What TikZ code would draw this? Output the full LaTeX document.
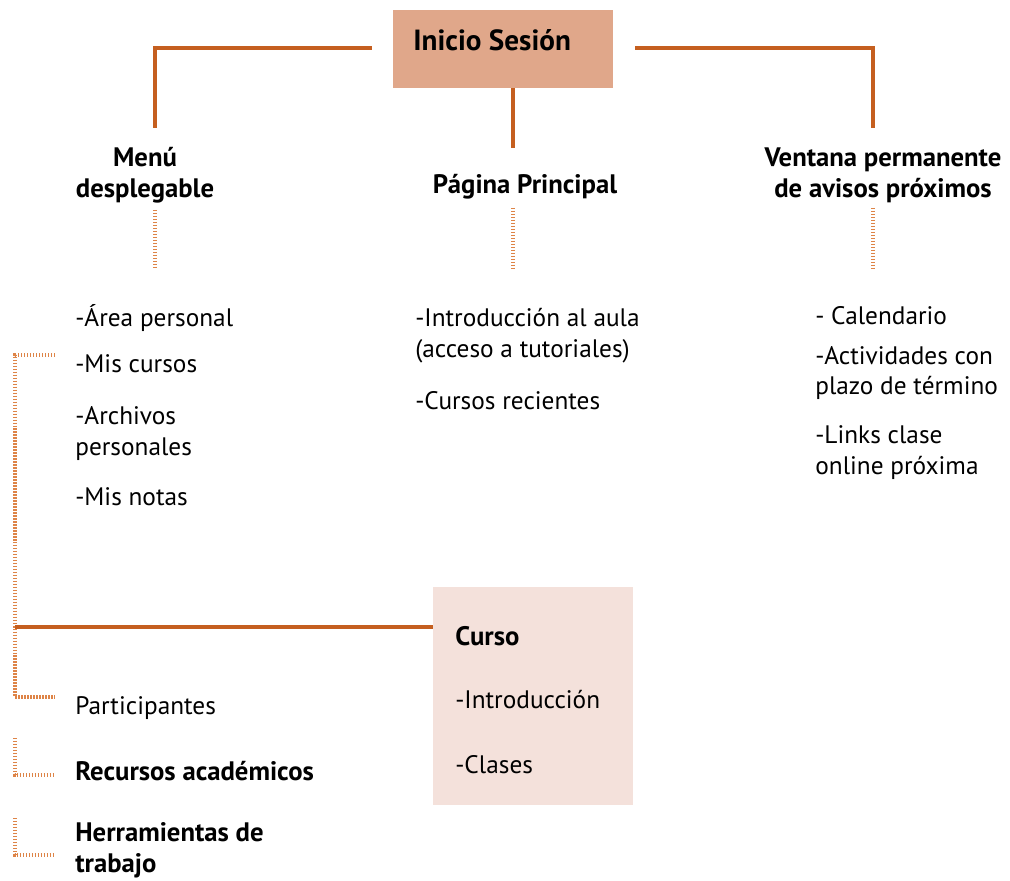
\documentclass[tikz,border=0pt]{standalone}
\usepackage{fontspec}
\setmainfont{PT Sans}
\usepackage{xcolor}
\usepackage{tikz}

\definecolor{linea}{HTML}{C55F1F}
\definecolor{punteo}{HTML}{DE8447}
\definecolor{cajatop}{HTML}{E0A78A}
\definecolor{cajacurso}{HTML}{F4E1DB}

\tikzset{
  txt/.style={anchor=west,inner sep=0pt,align=left,font=\fontsize{14.4}{17.6}\selectfont},
  txtb/.style={txt,font=\fontsize{15.2}{17.6}\selectfont\bfseries},
  head/.style={inner sep=0pt,align=center,font=\fontsize{15.2}{17.6}\selectfont\bfseries},
  link/.style={draw=linea,line width=2.2pt},
  dots/.style={draw=punteo,line width=2pt,dash pattern=on 0.85pt off 0.85pt}
}

\begin{document}
\begin{tikzpicture}[x=0.02cm,y=-0.02cm]
    \useasboundingbox (0,0) rectangle (1010,881);
    % cajas
    \node[fill=cajatop,minimum width=4.4cm,minimum height=1.56cm] (inicio) at (503,49) {};
    \node[txt,font=\fontsize{16.6}{18}\selectfont\bfseries] (iniciotxt) at (413,40) {Inicio Sesión};
    \node[fill=cajacurso,minimum width=4cm,minimum height=4.36cm] (curso) at (533,696) {};
    \node[txtb] (cursotxt) at (455,636) {Curso};
    \node[txt] (cursointro) at (455,700) {-Introducción};
    \node[txt] (cursoclases) at (455,765) {-Clases};

    % encabezados
    \node[head] (menu) at (145,175) {Menú\\desplegable};
    \node[head] (pagina) at (525,187) {Página Principal};
    \node[head] (ventana) at (883,175) {Ventana permanente\\de avisos próximos};

    % listas
    \node[txt] (area) at (75,318) {-Área personal};
    \node[txt] (cursos) at (75,364) {-Mis cursos};
    \node[txt] (archivos) at (75,433.5) {-Archivos\\personales};
    \node[txt] (notas) at (75,497) {-Mis notas};
    \node[txt] (aula) at (415,335.5) {-Introducción al aula\\ (acceso a tutoriales)};
    \node[txt] (recientes) at (415,401) {-Cursos recientes};
    \node[txt] (calendario) at (815,316) {- Calendario};
    \node[txt] (actividades) at (815,373) {-Actividades con\\plazo de término};
    \node[txt] (links) at (815,453) {-Links clase\\online próxima};
    \node[txt] (participantes) at (75,708) {Participantes};
    \node[txtb] (recursos) at (75,771) {Recursos académicos};
    \node[txtb] (herramientas) at (75,850) {Herramientas de\\trabajo};

    % puntos de las lineas
    \coordinate (menuarr) at (155,128);
    \coordinate (ventanaarr) at (873,128);
    \coordinate (paginaarr) at (513,148);
    \coordinate (menuab1) at (155,210);
    \coordinate (menuab2) at (155,268);
    \coordinate (paginaab1) at (513,208);
    \coordinate (paginaab2) at (513,268);
    \coordinate (ventanaab1) at (873,208);
    \coordinate (ventanaab2) at (873,268);
    \coordinate (brk1) at (55,355);
    \coordinate (brk2) at (55,697);
    \coordinate (brkm) at (15,627);
    \coordinate (rec1) at (15,738);
    \coordinate (rec2) at (55,775);
    \coordinate (her1) at (15,818);
    \coordinate (her2) at (55,855);

    % conectores
    \draw[link,shorten <=0.42cm] (inicio.west |- 0,48) -| (menuarr);
    \draw[link,shorten <=0.44cm] (inicio.east |- 0,48) -| (ventanaarr);
    \draw[link] (inicio.south -| paginaarr) -- (paginaarr);
    \draw[dots] (menuab1) -- (menuab2);
    \draw[dots] (paginaab1) -- (paginaab2);
    \draw[dots] (ventanaab1) -- (ventanaab2);
    \draw[dots] (brk1) -| (brkm) |- (brk2);
    \draw[link] (brkm) -- (brkm -| curso.west);
    \draw[dots] (rec1) |- (rec2);
    \draw[dots] (her1) |- (her2);
\end{tikzpicture}
\end{document}
